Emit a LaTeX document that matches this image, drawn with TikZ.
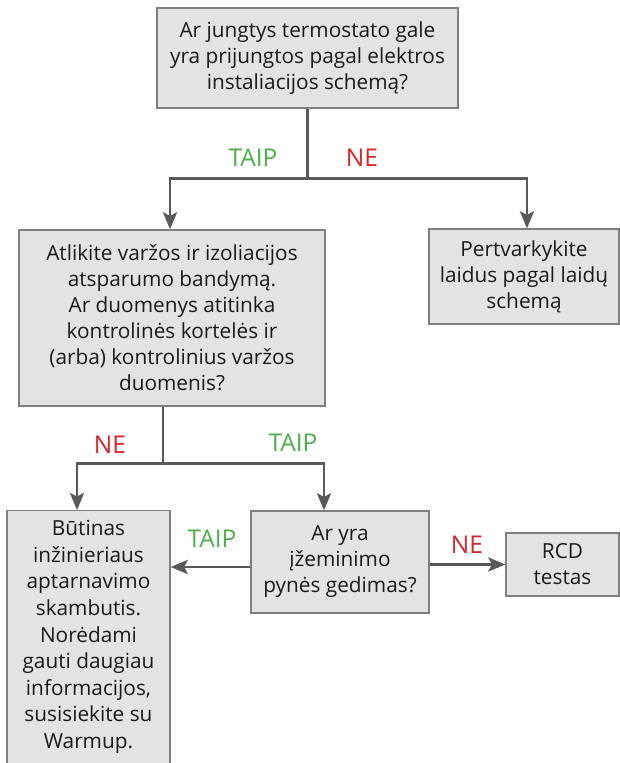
\documentclass[tikz,border=0pt]{standalone}
\usepackage{fontspec}
\setmainfont{Open Sans}
\usetikzlibrary{arrows.meta}
\definecolor{boxfill}{HTML}{E3E3E3}
\definecolor{boxline}{HTML}{7F7F7F}
\definecolor{arrowc}{HTML}{595959}
\definecolor{yesc}{HTML}{4DAF4A}
\definecolor{noc}{HTML}{D7262B}
\definecolor{txtc}{HTML}{1A1A1A}
\begin{document}
\begin{tikzpicture}[x=1pt,y=1pt,
 box/.style={draw=boxline, line width=1.3pt, fill=boxfill, align=center, inner sep=0pt, font=\fontsize{20.8}{26}\selectfont, text=txtc},
 txt/.style={align=center, inner sep=0pt, font=\fontsize{20.8}{26.6}\selectfont, text=txtc},
 conn/.style={draw=arrowc, line width=2.9pt},
 arr/.style={conn, -{Stealth[length=17pt,width=14pt,inset=3.5pt]}},
 yes/.style={text=yesc, inner sep=0pt, font=\fontsize{24.5}{26}\selectfont},
 no/.style={text=noc, inner sep=0pt, font=\fontsize{24.5}{26}\selectfont}]
\clip (0,0) rectangle (620,-763);
\fill[white] (0,0) rectangle (620,-763);
% boxes
\node[box, minimum width=301pt, minimum height=100pt] (b1) at (307.5,-58)
  {Ar jungtys termostato gale\\yra prijungtos pagal elektros\\instaliacijos schemą?};
\node[box, minimum width=306pt, minimum height=176pt] (b2) at (172,-318)
  {Atlikite varžos ir izoliacijos\\atsparumo bandymą.\\Ar duomenys atitinka\\kontrolinės kortelės ir\\(arba) kontrolinius varžos\\duomenis?};
\node[box, minimum width=190pt, minimum height=95pt] (bp) at (524,-276.5)
  {Pertvarkykite\\laidus pagal laidų\\schemą};
\node[box, minimum width=163pt, minimum height=270pt, anchor=north] (bb) at (88.5,-510) {};
\node[txt] (bbt) at (88.5,-637)
  {Būtinas\\inžinieriaus\\aptarnavimo\\skambutis.\\Norėdami\\gauti daugiau\\informacijos,\\susisiekite su\\Warmup.};
\node[box, minimum width=178pt, minimum height=102pt] (ay) at (340,-562)
  {Ar yra\\įžeminimo\\pynės gedimas?};
\node[box, minimum width=113pt, minimum height=63pt] (rcd) at (562.5,-564.5)
  {RCD\\testas};
% connectors
\draw[conn] (b1.south) -- ++(0,-70) coordinate (j1);
\draw[arr] (j1) -| ([xshift=-2pt]b2.north);
\draw[arr] (j1) -| ([xshift=3pt]bp.north);
\draw[conn] ([xshift=-9pt]b2.south) -- ++(0,-57) coordinate (j2);
\draw[arr] (j2) -| ([xshift=-11.5pt]bb.north);
\draw[arr] (j2) -| ([xshift=-16pt]ay.north);
\draw[arr] ([yshift=-5pt]ay.west) -- ([yshift=-5pt]ay.west -| bb.east);
\draw[arr] (ay.east |- rcd.west) -- (rcd.west);
% labels
\node[yes] (t1) at (253,-158) {TAIP};
\node[no] (n1) at (362,-158) {NE};
\node[no] (n2) at (110,-445) {NE};
\node[yes] (t2) at (293,-443) {TAIP};
\node[yes] (t3) at (212,-539) {TAIP};
\node[no] (n3) at (467,-545) {NE};
\end{tikzpicture}
\end{document}
